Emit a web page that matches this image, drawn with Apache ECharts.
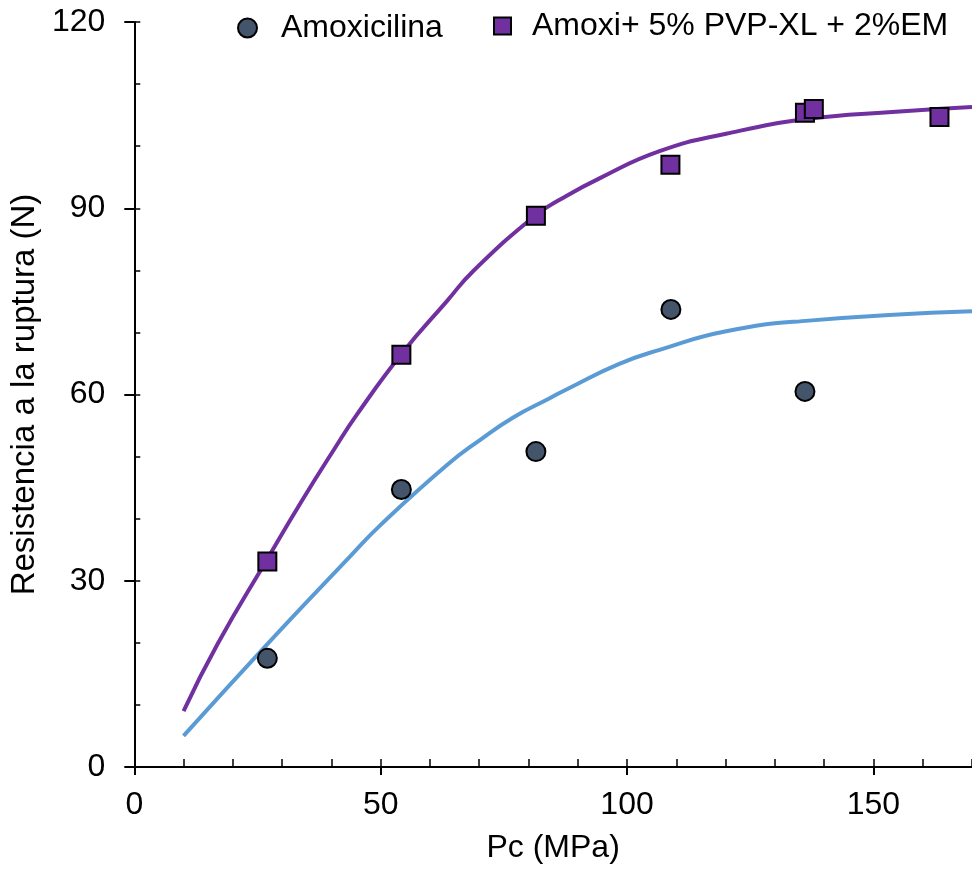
<!DOCTYPE html>
<html><head><meta charset="utf-8">
<script src="https://cdn.jsdelivr.net/npm/echarts@6/dist/echarts.min.js"></script>
<style>html,body{margin:0;padding:0;background:#fff}#c{width:972px;height:869px}</style>
</head><body><div id="c"></div>
<script>
// Measured data points
const amoxName = 'Amoxicilina';
const amoxX = [27.0, 54.2, 81.5, 108.9, 136.1];
const amoxY = [17.5, 44.7, 50.8, 73.7, 60.5];
const pvpName = 'Amoxi+ 5% PVP-XL + 2%EM';
const pvpX = [27.0, 54.2, 81.5, 108.8, 136.1, 137.9, 163.4];
const pvpY = [33.1, 66.4, 88.8, 97.0, 105.4, 106.0, 104.7];
// Fitted curves
const fitAmoxX = [10, 27, 43.9, 50, 63.4, 70.2, 76.9, 84.3, 88.4, 98.3, 106.6, 120.1, 136.9, 170];
const fitAmoxY = [5.0, 19.8, 34.0, 39.0, 48.6, 52.7, 56.3, 59.4, 61.1, 64.9, 67.2, 70.2, 71.9, 73.4];
const fitPvpX = [10, 16.9, 27, 33.8, 40.5, 45.2, 54.5, 63.4, 68.8, 81.5, 86.4, 94.6, 106.6, 120.1, 136.9, 153.8, 170];
const fitPvpY = [9.0, 19.8, 33.5, 42.6, 51.1, 56.8, 66.8, 75.0, 79.9, 88.9, 91.4, 94.9, 99.2, 102.0, 104.4, 105.5, 106.3];
// Axis ticks
const xTicks = [0, 50, 100, 150];
const yTicks = [0, 30, 60, 90, 120];

const zip = (a, b) => a.map((v, i) => [v, b[i]]);
const FONT = "'Liberation Sans', Arial, sans-serif";
const black = '#000';

const chart = echarts.init(document.getElementById('c'));
chart.setOption({
  animation: false,
  backgroundColor: '#fff',
  grid: { left: 133, right: 0, top: 22, bottom: 101, containLabel: false },
  xAxis: [{
    type: 'value', min: 0, max: 170, interval: 50, position: 'bottom',
    name: 'Pc (MPa)', nameLocation: 'middle', nameGap: 65,
    nameTextStyle: { fontSize: 32, fontFamily: FONT, color: black },
    axisLine: { show: true, lineStyle: { color: black, width: 2 } },
    axisTick: { show: true, inside: false, length: 8, lineStyle: { color: black, width: 2 }, customValues: xTicks },
    axisLabel: { fontSize: 32, fontFamily: FONT, color: black, margin: 22, customValues: xTicks },
    splitLine: { show: false }
  }, {
    type: 'value', min: 0, max: 170, interval: 10, position: 'bottom',
    axisLine: { show: false },
    axisTick: { show: true, inside: true, length: 8, lineStyle: { color: black, width: 1.5 } },
    axisLabel: { show: false }, splitLine: { show: false }
  }],
  yAxis: [{
    type: 'value', min: 0, max: 120, interval: 30, position: 'left',
    name: 'Resistencia a la ruptura (N)', nameLocation: 'middle', nameGap: 88,
    nameTextStyle: { fontSize: 33, fontFamily: FONT, color: black },
    axisLine: { show: true, lineStyle: { color: black, width: 2 } },
    axisTick: { show: true, inside: false, length: 10, lineStyle: { color: black, width: 2 }, customValues: yTicks },
    axisLabel: { fontSize: 32, fontFamily: FONT, color: black, margin: 29, customValues: yTicks },
    splitLine: { show: false }
  }, {
    type: 'value', min: 0, max: 120, interval: 10, position: 'left',
    axisLine: { show: false },
    axisTick: { show: true, inside: true, length: 6, lineStyle: { color: black, width: 1.5 } },
    axisLabel: { show: false }, splitLine: { show: false }
  }],
  legend: [{
    data: [{ name: amoxName, icon: 'circle' }],
    left: 237, top: 12, padding: 0, itemWidth: 19, itemHeight: 19,
    itemStyle: { borderColor: black, borderWidth: 2 },
    textStyle: { fontSize: 32, fontFamily: FONT, color: black, lineHeight: 32, padding: [0, 0, 0, 19] }
  }, {
    data: [{ name: pvpName, icon: 'rect' }],
    left: 493, top: 10, padding: 0, itemWidth: 17, itemHeight: 17,
    itemStyle: { borderColor: black, borderWidth: 2 },
    textStyle: { fontSize: 32, fontFamily: FONT, color: black, lineHeight: 32, padding: [0, 0, 0, 16] }
  }],
  series: [{
    type: 'line', name: 'fitAmox', data: zip(fitAmoxX, fitAmoxY),
    showSymbol: false, smooth: 0.5, z: 2,
    lineStyle: { color: '#5B9BD5', width: 4 }, itemStyle: { color: '#5B9BD5' }
  }, {
    type: 'line', name: 'fitPvp', data: zip(fitPvpX, fitPvpY),
    showSymbol: false, smooth: 0.5, z: 2,
    lineStyle: { color: '#7030A0', width: 4 }, itemStyle: { color: '#7030A0' }
  }, {
    type: 'scatter', name: amoxName, data: zip(amoxX, amoxY),
    symbol: 'circle', symbolSize: 19, z: 3,
    itemStyle: { color: '#44546A', borderColor: black, borderWidth: 2, opacity: 1 }
  }, {
    type: 'scatter', name: pvpName, data: zip(pvpX, pvpY),
    symbol: 'rect', symbolSize: 18, z: 3,
    itemStyle: { color: '#7030A0', borderColor: black, borderWidth: 2, opacity: 1 }
  }]
});
</script></body></html>
